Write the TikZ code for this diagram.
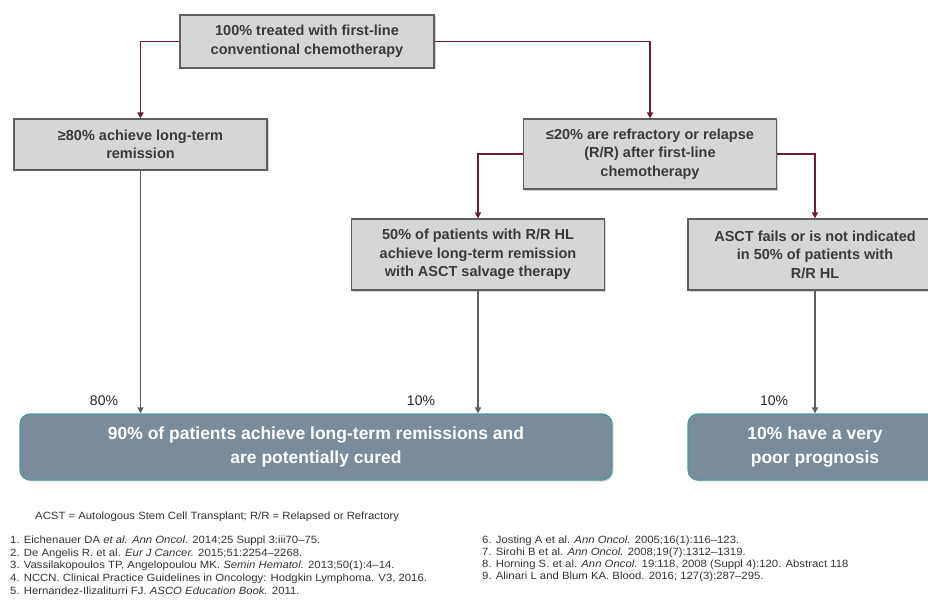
\documentclass[tikz,border=0pt]{standalone}
\usepackage{fontspec}
\setmainfont{Liberation Sans}
\usetikzlibrary{arrows.meta,shadows}
\definecolor{boxfill}{HTML}{D6D6D8}
\definecolor{boxdraw}{HTML}{5E5E5E}
\definecolor{boxtext}{HTML}{3A3A3A}
\definecolor{linkred}{HTML}{6E1C30}
\definecolor{linkgray}{HTML}{5F5F5F}
\definecolor{outfill}{HTML}{7A8B9A}
\definecolor{outdraw}{HTML}{4E9A96}
\tikzset{
  greybox/.style={draw=boxdraw, line width=1.2pt, fill=boxfill, align=center,
    font=\fontsize{14.5}{18.5}\selectfont\bfseries, text=boxtext, inner sep=2pt,
    drop shadow={shadow xshift=1.5pt, shadow yshift=-1.5pt, opacity=0.35}},
  outbox/.style={draw=outdraw, line width=1.2pt, fill=outfill, rounded corners=10pt, align=center,
    font=\fontsize{17.5}{24}\selectfont\bfseries, text=white, inner sep=2pt,
    drop shadow={shadow xshift=1.5pt, shadow yshift=-1.5pt, opacity=0.3}},
  redlink/.style={draw=linkred, line width=1.8pt, -{Triangle[length=6pt,width=6pt]}},
  graylink/.style={draw=linkgray, line width=1.5pt, -{Triangle[length=6pt,width=6pt]}},
  pct/.style={font=\fontsize{14}{16}\selectfont, text=black!85},
  note/.style={font=\fontsize{10.5}{12}\selectfont, text=black!80, anchor=west, inner sep=0pt,
    xscale=1.08, transform shape},
}
\begin{document}
\begin{tikzpicture}[x=1pt,y=-1pt]
\fill[white] (0,0) rectangle (928,604);
\clip (0,0) rectangle (928,604);
\useasboundingbox (0,0) rectangle (928,604);

\node[greybox, minimum width=254pt, minimum height=53pt] (top) at (307,41.5)
  {100\% treated with first-line\\conventional chemotherapy};
\node[greybox, minimum width=253pt, minimum height=51pt] (left) at (140.5,144.5)
  {≥80\% achieve long-term\\remission};
\node[greybox, minimum width=253pt, minimum height=70pt] (rr) at (650,154)
  {≤20\% are refractory or relapse\\(R/R) after first-line\\chemotherapy};
\node[greybox, minimum width=253pt, minimum height=71pt] (mid) at (478,254.5)
  {50\% of patients with R/R HL\\achieve long-term remission\\with ASCT salvage therapy};
\node[greybox, minimum width=254pt, minimum height=71pt] (asct) at (815,254.5)
  {ASCT fails or is not indicated\\in 50\% of patients with\\R/R HL};

\node[outbox, minimum width=592pt, minimum height=66pt] (bl) at (316,447)
  {90\% of patients achieve long-term remissions and\\are potentially cured};
\node[outbox, minimum width=254pt, minimum height=66pt] (br) at (815,447)
  {10\% have a very\\poor prognosis};

\draw[redlink] (top.west) -| (left.north);
\draw[redlink] (top.east) -| (rr.north);
\draw[redlink] (rr.west) -| (mid.north);
\draw[redlink] (rr.east) -| (asct.north);

\coordinate (blA) at (left.south |- bl.north);
\coordinate (blB) at (mid.south |- bl.north);
\draw[graylink] (left.south) -- (blA);
\draw[graylink] (mid.south) -- (blB);
\draw[graylink] (asct.south) -- (br.north);

\node[pct] (p1) at (104,401) {80\%};
\node[pct] (p2) at (421,401) {10\%};
\node[pct] (p3) at (774,401) {10\%};

\node[note] (abbr) at (35,517) {ACST = Autologous Stem Cell Transplant; R/R = Relapsed or Refractory};
\node[note] (r1) at (10,541) {1. Eichenauer DA \textit{et al.} \textit{Ann Oncol.} 2014;25 Suppl 3:iii70–75.};
\node[note] (r2) at (10,553.5) {2. De Angelis R. et al. \textit{Eur J Cancer.} 2015;51:2254–2268.};
\node[note] (r3) at (10,566) {3. Vassilakopoulos TP, Angelopoulou MK. \textit{Semin Hematol.} 2013;50(1):4–14.};
\node[note] (r4) at (10,578.5) {4. NCCN. Clinical Practice Guidelines in Oncology: Hodgkin Lymphoma. V3, 2016.};
\node[note] (r5) at (10,591) {5. Hernandez-Ilizaliturri FJ. \textit{ASCO Education Book.} 2011.};
\node[note] (r6) at (482,541) {6. Josting A et al. \textit{Ann Oncol.} 2005;16(1):116–123.};
\node[note] (r7) at (482,553) {7. Sirohi B et al. \textit{Ann Oncol.} 2008;19(7):1312–1319.};
\node[note] (r8) at (482,565) {8. Horning S. et al. \textit{Ann Oncol.} 19:118, 2008 (Suppl 4):120. Abstract 118};
\node[note] (r9) at (482,577) {9. Alinari L and Blum KA. Blood. 2016; 127(3):287–295.};
\end{tikzpicture}
\end{document}
